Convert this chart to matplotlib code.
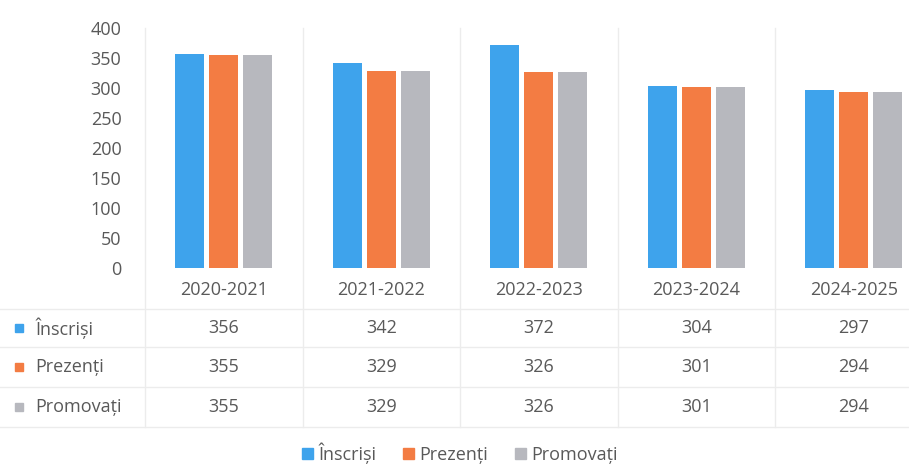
import matplotlib.pyplot as plt
import matplotlib.transforms as mtransforms
from matplotlib.patches import Patch
import numpy as np

# -------------------------------
# Data
# -------------------------------
years = ["2020-2021", "2021-2022", "2022-2023", "2023-2024", "2024-2025"]
inscrisi = [356, 342, 372, 304, 297]
prezenti = [355, 329, 326, 301, 294]
promovati = [355, 329, 326, 301, 294]

series_names = ["Înscriși", "Prezenți", "Promovați"]
series_colors = ["#3ea3ec", "#f37c43", "#b7b8be"]
yticks = [0, 50, 100, 150, 200, 250, 300, 350, 400]

plt.rcParams['font.family'] = ['Open Sans', 'DejaVu Sans']
text_color = "#595959"
grid_color = "#ececec"

W, H = 909, 466
fig = plt.figure(figsize=(W / 100, H / 100), dpi=100)

# axes placed by pixel positions
ax_left, ax_right, ax_top, ax_bottom = 145, 932.5, 28, 268
ax = fig.add_axes([ax_left / W, 1 - ax_bottom / H,
                   (ax_right - ax_left) / W, (ax_bottom - ax_top) / H])

x = np.arange(len(years))
bw = 0.184
step = 0.216
for i, (vals, col) in enumerate(zip([inscrisi, prezenti, promovati], series_colors)):
    ax.bar(x + (i - 1) * step, vals, width=bw, color=col, zorder=3)

ax.set_xlim(-0.5, len(years) - 0.5)
ax.set_ylim(0, 400)
ax.set_yticks(yticks)
ax.set_yticklabels([str(v) for v in yticks], fontsize=13, color=text_color)
ax.tick_params(axis='y', length=0, pad=17)
ax.set_xticks([])
for s in ax.spines.values():
    s.set_visible(False)

# -------------------------------
# Data table under the chart
# -------------------------------
def ay(py):
    # pixel row -> axes fraction
    return (ax_bottom - py) / (ax_bottom - ax_top)

data_tr = mtransforms.blended_transform_factory(ax.transData, ax.transAxes)
fig_tr = mtransforms.blended_transform_factory(fig.transFigure, ax.transAxes)

header_y = 290
row_ys = [328, 367, 407]
row_lines = [309, 347, 387, 427]

# vertical column boundaries
for b in np.arange(-0.5, len(years), 1.0):
    ax.plot([b, b], [ay(427), 1.0], transform=data_tr, color=grid_color,
            lw=1, clip_on=False, zorder=1)

# horizontal row lines
for py in row_lines:
    ax.plot([0, 1], [ay(py), ay(py)], transform=fig_tr, color=grid_color,
            lw=1, clip_on=False, zorder=1)

for xi, yr in zip(x, years):
    ax.text(xi, ay(header_y), yr, transform=data_tr, ha='center', va='center',
            fontsize=13, color=text_color)

for ry, name, col, vals in zip(row_ys, series_names, series_colors,
                               [inscrisi, prezenti, promovati]):
    ax.add_patch(plt.Rectangle((15 / W, ay(ry) - 0.018), 8 / W, 0.036,
                               transform=fig_tr, color=col, clip_on=False))
    ax.text(35 / W, ay(ry), name, transform=fig_tr, ha='left', va='center',
            fontsize=13, color=text_color)
    for xi, v in zip(x, vals):
        ax.text(xi, ay(ry), str(v), transform=data_tr, ha='center', va='center',
                fontsize=13, color=text_color)

# -------------------------------
# Legend
# -------------------------------
handles = [Patch(color=c, label=n) for n, c in zip(series_names, series_colors)]
fig.legend(handles=handles, loc='center', bbox_to_anchor=(0.506, 1 - 453 / H),
           ncol=3, frameon=False, fontsize=13, labelcolor=text_color,
           handlelength=0.6, handleheight=0.6, handletextpad=0.3, columnspacing=1.5)

plt.savefig("out.png", dpi=100)
